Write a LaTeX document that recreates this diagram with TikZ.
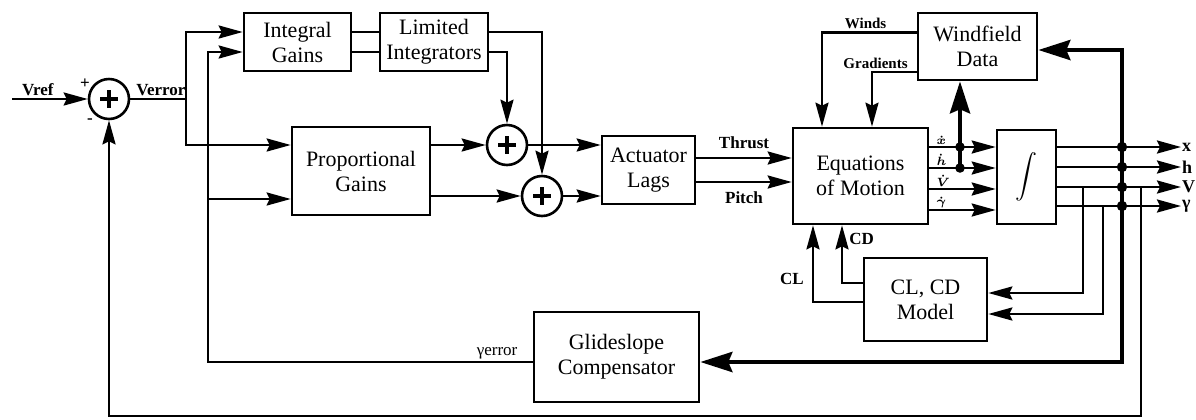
\documentclass[tikz,border=0pt]{standalone}
\usepackage{amsmath}
\usepackage{fontspec}
\setmainfont{Liberation Serif}
\usetikzlibrary{arrows.meta}
\tikzset{
  box/.style={draw,line width=1.3pt,align=center,inner sep=1pt,
              font=\fontsize{11}{12.5}\selectfont},
  sum/.style={circle,draw,line width=1.3pt,minimum size=20pt,inner sep=0pt,
              path picture={\draw[line width=1.6pt]
                ([yshift=-5.5pt]path picture bounding box.north) -- ([yshift=5.5pt]path picture bounding box.south)
                ([xshift=5.5pt]path picture bounding box.west) -- ([xshift=-5.5pt]path picture bounding box.east);}},
  wire/.style={line width=1.3pt},
  arrow/.style={-{Stealth[length=12pt,width=6.5pt,inset=1.5pt]},line width=1.3pt},
  busarrow/.style={-{Stealth[length=16pt,width=10pt,inset=2pt]},line width=2.2pt},
  lab/.style={font=\bfseries\fontsize{8.5}{10}\selectfont,inner sep=1pt},
  smalllab/.style={font=\bfseries\fontsize{7.5}{9}\selectfont,inner sep=1pt},
  dotlab/.style={font=\fontsize{6.5}{7}\selectfont,inner sep=0pt,above right,xshift=3pt,yshift=0.6pt},
  outlab/.style={font=\bfseries\fontsize{9}{10}\selectfont,inner sep=0.3pt,anchor=west},
}
\begin{document}
\begin{tikzpicture}[x=0.5pt,y=-0.5pt]
\useasboundingbox (0,0) rectangle (1196,419);
\node[box,minimum width=53.5pt,minimum height=29pt] (intg) at (297.5,42) {Integral\\Gains};
\node[box,minimum width=54pt,minimum height=29pt] (limint) at (434,42) {Limited\\Integrators};
\node[box,minimum width=69pt,minimum height=44pt] (propg) at (361,171) {Proportional\\Gains};
\node[box,minimum width=46.5pt,minimum height=34pt] (act) at (648.5,170) {Actuator\\Lags};
\node[box,minimum width=67.5pt,minimum height=48pt] (eom) at (860.5,176) {Equations\\of Motion};
\node[box,minimum width=59.5pt,minimum height=33.5pt] (wind) at (977.5,46.5) {Windfield\\Data};
\node[box,minimum width=29.5pt,minimum height=47pt] (integ) at (1026.5,177) {$\displaystyle\boldsymbol{\int}$};
\node[box,minimum width=61.5pt,minimum height=41.5pt] (clcd) at (925.5,299.5) {CL, CD\\Model};
\node[box,minimum width=82.5pt,minimum height=45pt] (glide) at (616.5,357) {Glideslope\\Compensator};
\node[sum] (sum1) at (109,99) {};
\node[sum] (sum2) at (507,145) {};
\node[sum] (sum3) at (542,196) {};
\node[lab] (plus) at (85,84) {+};
\node[lab] (minus) at (90,121) {-};
\node[outlab] (outx) at (1181,147) {x};
\node[outlab] (outh) at (1181,167) {h};
\node[outlab] (outv) at (1181,187) {V};
\node[outlab] (outg) at (1181,206) {γ};
\coordinate (vref) at (12,99);
\coordinate (verr) at (186,99);
\coordinate (gerr) at (208,199);
\coordinate (xtap) at (960,147);
\coordinate (htap) at (960,168);
\coordinate (bus) at (1122,147);
\coordinate (vtap) at (1083,187);
\coordinate (gtap) at (1103,206);
\coordinate (vfb) at (1141,187);
\coordinate (fbc) at (1141,416);
\draw[arrow] (vref) -- node[lab,above,pos=0.34]{Vref} (sum1);
\draw[arrow] (sum1) -- node[lab,above,pos=0.55]{Verror} (verr) |- ([yshift=5pt]intg.west);
\draw[arrow] (verr) |- ([yshift=13pt]propg.west);
\draw[arrow] ([yshift=-2.5pt]glide.west) node[lab,font=\fontsize{8.5}{10}\selectfont,above left,xshift=-6pt]{γerror}
  -| (gerr) |- ([yshift=-5pt]intg.west);
\draw[arrow] (gerr) -- ([yshift=-14pt]propg.west);
\draw[wire] ([yshift=5pt]intg.east) -- ([yshift=5pt]limint.west);
\draw[wire] ([yshift=-5pt]intg.east) -- ([yshift=-5pt]limint.west);
\draw[arrow] ([yshift=5pt]limint.east) -| (sum3);
\draw[arrow] ([yshift=-5pt]limint.east) -| (sum2);
\draw[arrow] ([yshift=13pt]propg.east) -- (sum2);
\draw[arrow] ([yshift=-12.5pt]propg.east) -- (sum3);
\draw[arrow] (sum2) -- (sum2 -| act.west);
\draw[arrow] (sum3) -- (sum3 -| act.west);
\draw[arrow] ([yshift=6pt]act.east) -- node[lab,above=3pt]{Thrust} ([yshift=6pt]act.east -| eom.west);
\draw[arrow] ([yshift=-6pt]act.east) -- node[lab,below=3pt]{Pitch} ([yshift=-6pt]act.east -| eom.west);
\draw[arrow] ([yshift=7pt]wind.west) -| node[smalllab,above,pos=0.27]{Winds} ([xshift=-19.25pt]eom.north);
\draw[arrow] ([yshift=-12.75pt]wind.west) -| node[smalllab,above,pos=0.46]{Gradients} ([xshift=5.75pt]eom.north);
\foreach \dy/\lab in {14.5/x,4/h,-6.5/V,-17/\gamma}
  \draw[arrow] ([yshift=\dy pt]eom.east) node[dotlab]{$\boldsymbol{\dot{\lab}}$}
    -- ([yshift=\dy pt]eom.east -| integ.west);
\draw[busarrow] (htap) -- (htap |- wind.south);
\fill (xtap) circle (2.4pt) (htap) circle (2.4pt);
\foreach \o in {outx,outh,outv,outg}
  \draw[arrow] (\o -| integ.east) -- (\o.west);
\draw[busarrow] (bus) |- ([yshift=-1.75pt]wind.east);
\draw[busarrow] (bus) |- ([yshift=-2.5pt]glide.east);
\foreach \o in {outx,outh,outv,outg}
  \fill (\o -| bus) circle (2.6pt);
\draw[arrow] (vtap) |- ([yshift=3.25pt]clcd.east);
\draw[arrow] (gtap) |- ([yshift=-7.25pt]clcd.east);
\draw[arrow] ([yshift=-1.25pt]clcd.west) -| node[lab,left=3pt,pos=0.65]{CL} ([xshift=-23.75pt]eom.south);
\draw[arrow] ([yshift=8.25pt]clcd.west) -| node[lab,right=2pt,pos=0.88]{CD} ([xshift=-9.25pt]eom.south);
\draw[arrow] (vfb) -- (fbc) -| (sum1);
\end{tikzpicture}
\end{document}
